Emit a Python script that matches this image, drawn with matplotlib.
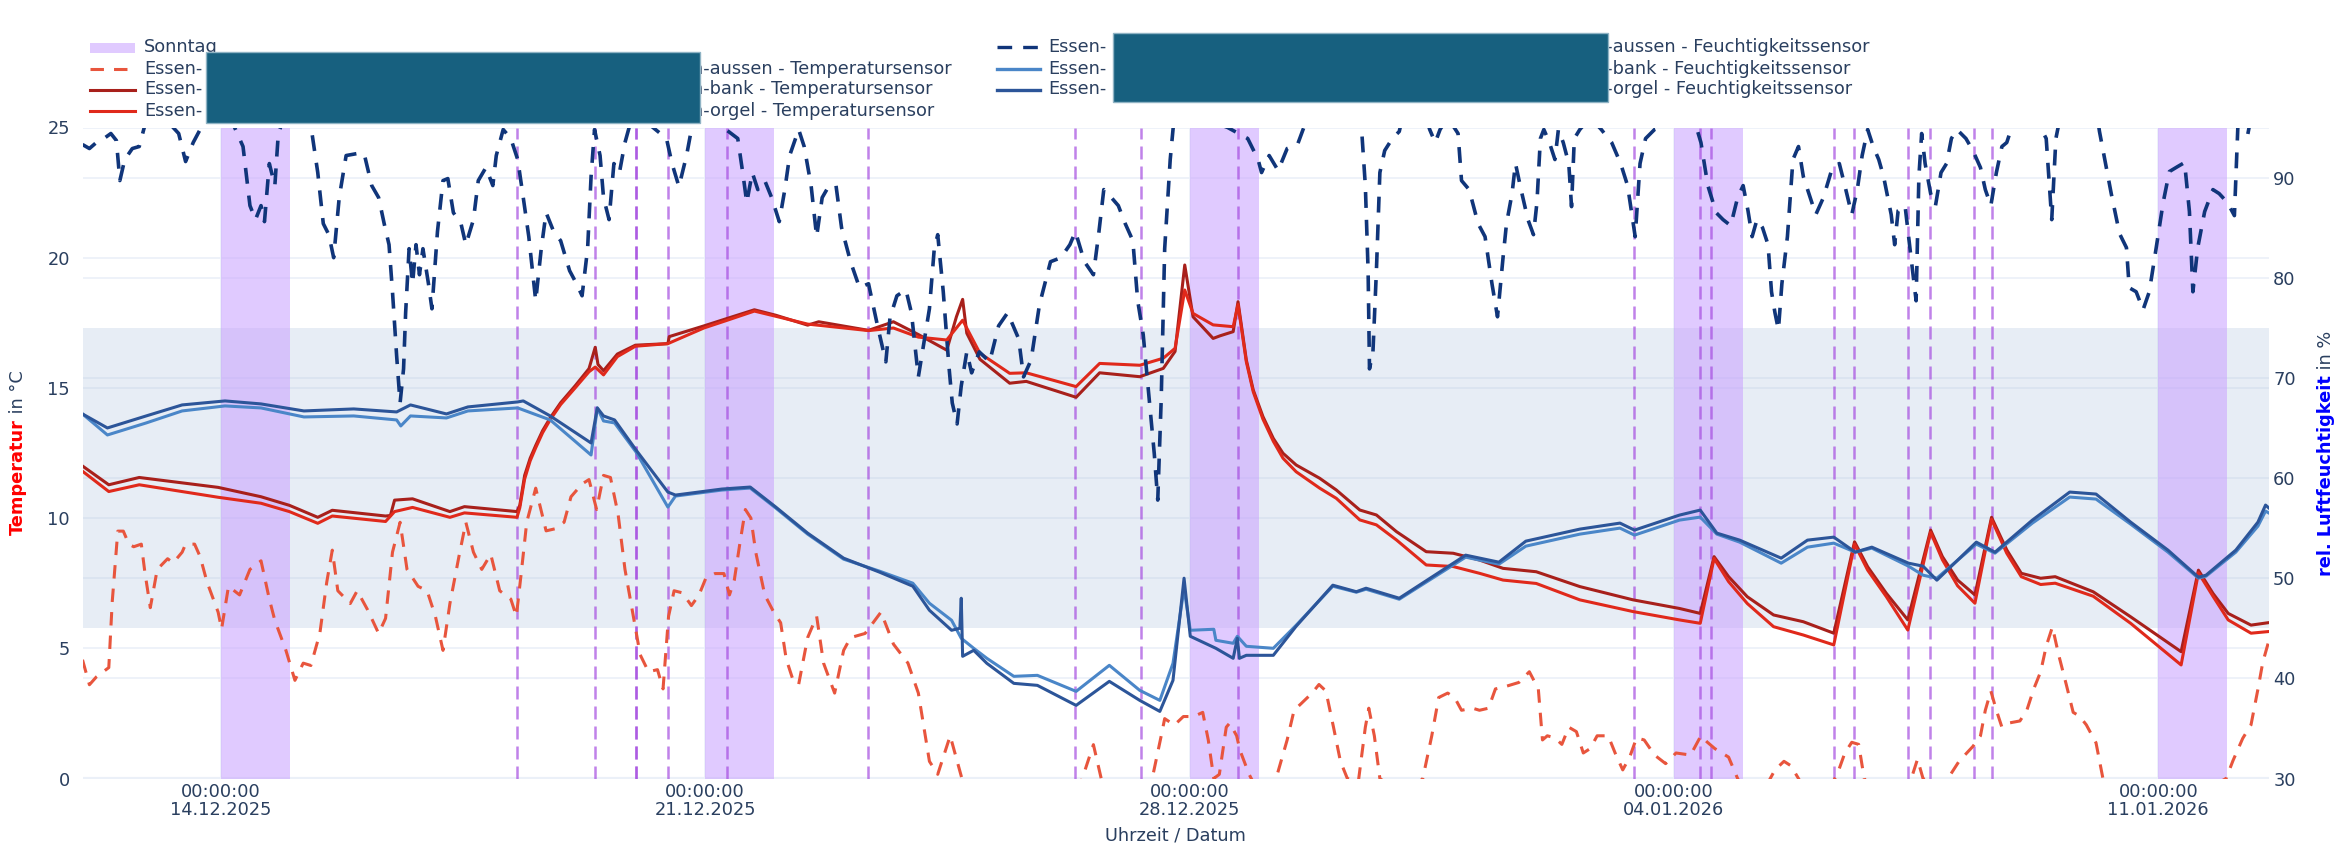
import numpy as np
import pandas as pd
import matplotlib
matplotlib.use("Agg")
import matplotlib.pyplot as plt
import matplotlib.dates as mdates
from matplotlib.lines import Line2D
from matplotlib.patches import Rectangle

FS = 12.8
plt.rcParams["font.family"] = "DejaVu Sans"
plt.rcParams["font.size"] = FS

START = pd.Timestamp("2025-12-12 00:00")
ENDE_TAGE = 31.6

# Messwerte: (Tage seit 12.12.2025 00:00, Wert)
temp_aussen = [
    (0.00, 4.56), (0.10, 3.60), (0.20, 3.90), (0.38, 4.26), (0.43, 6.80), (0.51, 9.50), (0.59, 9.50),
    (0.67, 9.00), (0.74, 8.90), (0.85, 9.00), (0.90, 7.95), (0.98, 6.56), (1.08, 8.03), (1.23, 8.44),
    (1.31, 8.28), (1.44, 8.69), (1.49, 9.00), (1.62, 9.00), (1.70, 8.52), (1.80, 7.54), (1.96, 6.39),
    (2.01, 5.74), (2.11, 7.38), (2.27, 7.05), (2.42, 8.03), (2.58, 8.36), (2.70, 6.89), (2.78, 6.07),
    (2.94, 4.92), (3.07, 3.77), (3.19, 4.43), (3.30, 4.34), (3.43, 5.57), (3.53, 7.54), (3.61, 8.77),
    (3.69, 7.21), (3.87, 6.72), (3.97, 7.21), (4.12, 6.48), (4.28, 5.57), (4.38, 6.15), (4.48, 8.69),
    (4.59, 9.84), (4.69, 8.03), (4.85, 7.38), (4.98, 7.21), (5.10, 6.23), (5.21, 4.92), (5.31, 6.72),
    (5.44, 8.52), (5.54, 9.84), (5.65, 8.69), (5.77, 8.03), (5.90, 8.61), (6.03, 7.21), (6.19, 6.89),
    (6.27, 6.23), (6.34, 7.87), (6.42, 9.84), (6.55, 11.15), (6.70, 9.51), (6.83, 9.59), (6.96, 9.84),
    (7.06, 10.82), (7.22, 11.31), (7.32, 11.48), (7.43, 10.33), (7.53, 11.64), (7.63, 11.56),
    (7.74, 10.16), (7.84, 8.03), (7.95, 6.39), (8.06, 4.75), (8.18, 4.10), (8.31, 4.18), (8.39, 3.44),
    (8.47, 6.23), (8.55, 7.21), (8.67, 7.13), (8.80, 6.64), (8.91, 7.05), (9.01, 7.70), (9.14, 7.87),
    (9.27, 7.87), (9.35, 7.05), (9.42, 7.62), (9.50, 9.02), (9.58, 10.33), (9.66, 10.00), (9.73, 8.69),
    (9.86, 7.05), (9.99, 6.39), (10.09, 5.98), (10.17, 4.59), (10.27, 3.77), (10.35, 3.61),
    (10.48, 5.41), (10.61, 6.23), (10.71, 4.43), (10.87, 3.28), (11.00, 4.92), (11.10, 5.41),
    (11.31, 5.57), (11.54, 6.39), (11.72, 5.16), (11.93, 4.43), (12.08, 3.28), (12.24, 0.66),
    (12.36, 0.16), (12.54, 1.64), (12.73, -0.20), (13.20, -1.50), (13.80, -1.00), (14.30, -1.20),
    (14.61, 1.30), (14.74, -0.20), (15.00, -1.00), (15.46, 0.00), (15.59, 1.64), (15.64, 2.30),
    (15.78, 2.05), (15.91, 2.38), (16.06, 2.38), (16.19, 2.54), (16.27, 1.48), (16.35, 0.00),
    (16.43, 0.16), (16.53, 1.97), (16.58, 2.13), (16.68, 1.64), (16.73, 1.07), (16.86, 0.16),
    (16.99, -0.50), (17.25, 0.00), (17.41, 1.48), (17.51, 2.62), (17.61, 2.87), (17.77, 3.28),
    (17.87, 3.61), (17.97, 3.36), (18.08, 1.97), (18.18, 0.66), (18.28, 0.00), (18.44, -0.10),
    (18.54, 1.97), (18.59, 2.70), (18.67, 1.64), (18.75, 0.00), (19.11, -0.70), (19.37, 0.00),
    (19.50, 1.64), (19.60, 3.11), (19.73, 3.28), (19.83, 3.11), (19.93, 2.62), (20.09, 2.70),
    (20.19, 2.62), (20.32, 2.70), (20.42, 3.44), (20.55, 3.52), (20.66, 3.61), (20.76, 3.69),
    (20.91, 4.10), (21.04, 3.44), (21.10, 1.48), (21.17, 1.64), (21.28, 1.56), (21.38, 1.31),
    (21.48, 1.97), (21.59, 1.80), (21.69, 0.98), (21.79, 1.15), (21.89, 1.64), (22.05, 1.64),
    (22.15, 0.98), (22.26, 0.33), (22.36, 0.82), (22.46, 1.56), (22.57, 1.48), (22.72, 0.90),
    (22.88, 0.57), (23.03, 0.98), (23.24, 0.90), (23.39, 1.64), (23.48, 1.40), (23.59, 1.15),
    (23.79, 0.82), (23.92, 0.00), (24.07, -0.70), (24.33, -0.30), (24.46, 0.33), (24.59, 0.66),
    (24.69, 0.49), (24.80, 0.00), (24.95, -0.70), (25.26, -0.30), (25.36, 0.16), (25.47, 0.98),
    (25.57, 1.39), (25.67, 1.31), (25.75, 0.00), (25.98, -0.80), (26.29, -0.50), (26.45, 0.16),
    (26.52, 0.74), (26.60, 0.00), (26.81, -0.30), (26.96, 0.00), (27.12, 0.66), (27.32, 1.23),
    (27.43, 1.64), (27.50, 2.62), (27.58, 3.36), (27.66, 2.62), (27.74, 1.97), (27.84, 2.13),
    (28.00, 2.21), (28.10, 2.62), (28.20, 3.44), (28.30, 4.10), (28.38, 5.08), (28.47, 5.82),
    (28.56, 4.75), (28.67, 3.61), (28.77, 2.54), (28.86, 2.40), (28.96, 2.06), (29.10, 1.37),
    (29.20, 0.00), (29.60, -1.00), (30.00, -1.00), (30.50, -0.70), (30.98, 0.00), (31.08, 0.69),
    (31.22, 1.54), (31.34, 2.06), (31.44, 3.43), (31.51, 4.46), (31.60, 5.31),
]

temp_bank = [
    (0.00, 12.00), (0.38, 11.28), (0.82, 11.56), (1.96, 11.18), (2.58, 10.82), (2.99, 10.49),
    (3.40, 10.03), (3.61, 10.30), (4.38, 10.08), (4.45, 10.10), (4.51, 10.69), (4.77, 10.74),
    (5.31, 10.25), (5.52, 10.44), (6.28, 10.25), (6.32, 10.49), (6.39, 11.64), (6.47, 12.30),
    (6.55, 12.79), (6.65, 13.36), (6.76, 13.85), (6.91, 14.43), (7.12, 15.08), (7.32, 15.74),
    (7.41, 16.56), (7.45, 15.90), (7.53, 15.66), (7.73, 16.30), (7.99, 16.64), (8.46, 16.70),
    (8.48, 16.97), (8.98, 17.38), (9.32, 17.67), (9.71, 18.00), (10.02, 17.79), (10.48, 17.41),
    (10.64, 17.54), (11.36, 17.21), (11.72, 17.54), (12.08, 17.05), (12.49, 16.45), (12.63, 17.73),
    (12.72, 18.40), (12.78, 17.10), (12.97, 16.10), (13.40, 15.18), (13.64, 15.25), (14.36, 14.64),
    (14.70, 15.58), (15.28, 15.43), (15.62, 15.75), (15.79, 16.40), (15.93, 19.72), (16.05, 17.73),
    (16.34, 16.90), (16.44, 17.00), (16.63, 17.16), (16.70, 18.31), (16.82, 16.07), (16.92, 14.92),
    (17.06, 13.90), (17.21, 13.06), (17.35, 12.49), (17.54, 12.04), (17.88, 11.53), (18.12, 11.08),
    (18.46, 10.31), (18.70, 10.12), (18.99, 9.48), (19.42, 8.71), (19.81, 8.65), (20.19, 8.39),
    (20.53, 8.07), (21.01, 7.94), (21.64, 7.37), (22.41, 6.86), (23.08, 6.53), (23.38, 6.34),
    (23.58, 8.52), (23.79, 7.75), (24.06, 6.98), (24.44, 6.28), (24.87, 6.02), (25.31, 5.58),
    (25.61, 9.09), (25.80, 8.13), (26.07, 7.11), (26.38, 6.09), (26.71, 9.54), (26.88, 8.52),
    (27.10, 7.62), (27.35, 7.05), (27.59, 10.03), (27.81, 8.78), (28.02, 7.88), (28.30, 7.69),
    (28.51, 7.75), (29.06, 7.17), (29.60, 6.21), (30.33, 4.87), (30.58, 8.00), (30.79, 7.11),
    (31.01, 6.34), (31.34, 5.89), (31.58, 5.98),
]

temp_orgel = [
    (0.00, 11.80), (0.38, 11.02), (0.82, 11.28), (1.96, 10.80), (2.58, 10.57), (2.99, 10.25),
    (3.40, 9.80), (3.61, 10.08), (4.38, 9.87), (4.51, 10.25), (4.77, 10.41), (5.31, 10.03),
    (5.52, 10.20), (6.28, 10.03), (6.32, 10.40), (6.39, 11.50), (6.47, 12.20), (6.55, 12.70),
    (6.65, 13.28), (6.76, 13.78), (6.91, 14.36), (7.12, 15.00), (7.32, 15.62), (7.41, 15.80),
    (7.53, 15.50), (7.73, 16.20), (7.99, 16.60), (8.46, 16.70), (8.98, 17.30), (9.32, 17.60),
    (9.71, 17.95), (10.02, 17.75), (10.48, 17.45), (11.36, 17.20), (11.72, 17.30), (12.08, 16.95),
    (12.49, 16.84), (12.72, 17.60), (12.97, 16.33), (13.40, 15.56), (13.64, 15.58), (14.36, 15.05),
    (14.70, 15.94), (15.28, 15.87), (15.62, 16.14), (15.79, 16.52), (15.93, 18.76), (16.05, 17.86),
    (16.34, 17.42), (16.63, 17.35), (16.70, 18.20), (16.82, 16.00), (16.92, 14.85), (17.06, 13.80),
    (17.21, 12.95), (17.35, 12.30), (17.54, 11.78), (17.88, 11.15), (18.12, 10.76), (18.46, 9.93),
    (18.70, 9.74), (18.99, 9.16), (19.42, 8.20), (19.81, 8.14), (20.19, 7.88), (20.53, 7.62),
    (21.01, 7.49), (21.64, 6.86), (22.41, 6.41), (23.08, 6.09), (23.38, 5.96), (23.58, 8.45),
    (23.79, 7.56), (24.06, 6.72), (24.44, 5.83), (24.87, 5.51), (25.31, 5.13), (25.61, 9.00),
    (25.80, 8.00), (26.07, 6.98), (26.38, 5.70), (26.71, 9.45), (26.88, 8.40), (27.10, 7.40),
    (27.35, 6.73), (27.59, 9.95), (27.81, 8.65), (28.02, 7.75), (28.30, 7.45), (28.51, 7.50),
    (29.06, 7.00), (29.60, 5.96), (30.33, 4.36), (30.58, 7.90), (30.79, 7.00), (31.01, 6.09),
    (31.34, 5.58), (31.58, 5.64),
]

feuchte_aussen = [
    (0.00, 93.3), (0.10, 92.9), (0.20, 93.5), (0.31, 93.9), (0.41, 94.4), (0.49, 93.7), (0.54, 89.7),
    (0.61, 91.8), (0.72, 92.9), (0.82, 93.1), (0.90, 95.2), (1.03, 97.0), (1.23, 95.6), (1.39, 94.4),
    (1.49, 91.6), (1.60, 93.5), (1.70, 94.8), (1.80, 96.5), (2.16, 95.6), (2.32, 93.1), (2.42, 87.2),
    (2.50, 85.8), (2.58, 87.2), (2.63, 85.6), (2.70, 91.4), (2.78, 89.2), (2.83, 94.4), (2.94, 96.5),
    (3.30, 95.2), (3.40, 90.5), (3.48, 85.4), (3.56, 84.3), (3.63, 82.0), (3.71, 88.0), (3.81, 92.2),
    (3.97, 92.4), (4.07, 92.4), (4.18, 89.2), (4.28, 88.0), (4.36, 85.4), (4.43, 83.3), (4.48, 78.6),
    (4.54, 72.2), (4.59, 67.5), (4.64, 70.9), (4.67, 76.5), (4.72, 82.9), (4.77, 79.4), (4.82, 83.3),
    (4.87, 80.3), (4.92, 82.9), (5.00, 79.4), (5.05, 76.9), (5.13, 84.6), (5.21, 89.7), (5.28, 89.9),
    (5.36, 86.5), (5.47, 85.4), (5.54, 83.3), (5.65, 85.8), (5.72, 89.7), (5.83, 91.0), (5.93, 89.2),
    (5.98, 92.2), (6.08, 94.8), (6.19, 93.9), (6.29, 91.8), (6.37, 88.0), (6.45, 84.1), (6.55, 77.7),
    (6.63, 82.9), (6.70, 86.5), (6.81, 84.6), (6.91, 83.7), (7.04, 80.7), (7.14, 79.4), (7.22, 78.2),
    (7.30, 82.9), (7.35, 90.1), (7.40, 94.8), (7.48, 92.2), (7.53, 88.0), (7.61, 85.8), (7.68, 91.4),
    (7.76, 90.5), (7.84, 93.5), (7.98, 97.0), (8.21, 95.2), (8.44, 93.9), (8.52, 91.4), (8.62, 89.1),
    (8.73, 92.2), (8.80, 94.8), (8.88, 97.0), (9.47, 93.9), (9.55, 90.1), (9.60, 87.5), (9.68, 90.5),
    (9.76, 88.8), (9.86, 89.7), (9.96, 88.0), (10.07, 85.6), (10.15, 88.8), (10.22, 92.2),
    (10.35, 94.8), (10.43, 93.1), (10.53, 89.2), (10.61, 84.1), (10.69, 88.0), (10.79, 89.2),
    (10.89, 89.2), (10.97, 85.0), (11.10, 81.6), (11.23, 79.0), (11.36, 79.4), (11.49, 75.2),
    (11.61, 71.6), (11.67, 76.0), (11.77, 78.2), (11.90, 78.8), (11.98, 76.5), (12.08, 70.1),
    (12.16, 73.5), (12.24, 76.9), (12.31, 82.9), (12.36, 84.3), (12.44, 78.6), (12.52, 71.3),
    (12.57, 67.5), (12.64, 65.4), (12.70, 69.2), (12.78, 72.6), (12.85, 70.5), (12.96, 72.6),
    (13.11, 71.6), (13.24, 75.2), (13.37, 76.5), (13.53, 73.9), (13.60, 70.1), (13.71, 71.8),
    (13.83, 77.3), (13.99, 81.6), (14.14, 82.0), (14.27, 83.3), (14.35, 84.6), (14.48, 81.6),
    (14.61, 80.3), (14.69, 84.6), (14.76, 88.8), (14.87, 88.0), (14.97, 87.2), (15.07, 85.4),
    (15.18, 83.7), (15.25, 77.7), (15.33, 74.3), (15.41, 68.4), (15.49, 62.4), (15.54, 57.8),
    (15.59, 67.9), (15.64, 82.9), (15.72, 91.8), (15.79, 97.0), (16.55, 95.0), (16.84, 93.9),
    (16.99, 91.8), (17.04, 90.5), (17.15, 92.2), (17.28, 90.7), (17.41, 92.9), (17.56, 93.3),
    (17.64, 94.8), (17.77, 97.0), (18.39, 97.0), (18.49, 94.4), (18.54, 89.2), (18.58, 80.7),
    (18.60, 70.9), (18.65, 72.6), (18.70, 80.7), (18.75, 90.5), (18.82, 92.7), (18.93, 93.9),
    (19.03, 94.6), (19.11, 97.0), (19.42, 96.0), (19.47, 94.8), (19.55, 93.5), (19.62, 94.8),
    (19.73, 96.0), (19.88, 94.4), (19.93, 89.7), (20.04, 88.8), (20.17, 85.4), (20.27, 84.1),
    (20.37, 79.4), (20.45, 76.1), (20.53, 82.0), (20.58, 85.4), (20.66, 88.4), (20.71, 91.4),
    (20.79, 88.8), (20.89, 85.8), (20.97, 84.3), (21.02, 87.5), (21.07, 93.9), (21.12, 94.8),
    (21.20, 93.5), (21.28, 91.8), (21.33, 94.8), (21.40, 93.5), (21.48, 91.4), (21.52, 87.1),
    (21.56, 93.9), (21.64, 94.8), (21.79, 96.0), (21.95, 94.8), (22.10, 93.5), (22.23, 91.4),
    (22.33, 89.2), (22.44, 84.1), (22.51, 91.4), (22.59, 93.9), (22.72, 94.8), (22.88, 95.2),
    (23.24, 97.0), (23.39, 93.5), (23.49, 89.2), (23.61, 86.5), (23.71, 85.8), (23.82, 85.2),
    (23.92, 88.0), (24.00, 89.2), (24.07, 86.7), (24.13, 84.1), (24.20, 85.8), (24.28, 85.0),
    (24.36, 83.3), (24.41, 78.6), (24.46, 76.5), (24.51, 74.8), (24.56, 79.4), (24.64, 84.1),
    (24.72, 91.8), (24.80, 93.1), (24.87, 90.1), (24.95, 88.4), (25.05, 86.3), (25.16, 88.0),
    (25.29, 91.0), (25.39, 91.4), (25.47, 89.2), (25.57, 86.3), (25.65, 88.8), (25.72, 92.2),
    (25.80, 94.8), (25.88, 93.1), (25.96, 91.8), (26.03, 90.1), (26.14, 86.3), (26.19, 83.3),
    (26.24, 86.7), (26.34, 87.2), (26.42, 82.4), (26.50, 77.7), (26.54, 90.1), (26.58, 94.4),
    (26.63, 91.4), (26.71, 88.4), (26.78, 87.2), (26.86, 90.5), (26.94, 91.4), (27.01, 93.9),
    (27.09, 94.8), (27.22, 93.9), (27.32, 92.7), (27.43, 91.0), (27.50, 88.8), (27.58, 87.2),
    (27.66, 90.5), (27.74, 93.1), (27.81, 93.5), (27.89, 95.2), (28.15, 97.0), (28.38, 93.9),
    (28.46, 85.8), (28.52, 93.9), (28.61, 97.0), (29.10, 97.0), (29.15, 94.6), (29.32, 88.4),
    (29.44, 84.4), (29.54, 83.0), (29.58, 79.0), (29.68, 78.6), (29.78, 76.8), (29.87, 78.6),
    (29.97, 83.0), (30.07, 87.5), (30.16, 90.6), (30.28, 91.1), (30.38, 91.5), (30.45, 86.6),
    (30.50, 78.6), (30.57, 83.0), (30.67, 86.6), (30.79, 88.8), (30.88, 88.4), (31.00, 87.5),
    (31.10, 86.2), (31.15, 95.1), (31.22, 98.0), (31.29, 94.2), (31.34, 96.0), (31.60, 98.0),
]

feuchte_bank = [
    (0.00, 66.4), (0.36, 64.3), (0.92, 65.5), (1.44, 66.7), (2.06, 67.2), (2.58, 67.0), (3.20, 66.1),
    (3.92, 66.2), (4.54, 65.8), (4.60, 65.2), (4.74, 66.2), (5.26, 66.0), (5.57, 66.7), (6.29, 67.0),
    (6.76, 65.8), (7.35, 62.3), (7.44, 67.0), (7.53, 65.7), (7.69, 65.5), (8.00, 62.6), (8.46, 57.1),
    (8.57, 58.2), (9.24, 58.8), (9.65, 59.0), (10.02, 57.0), (10.48, 54.4), (11.00, 51.9),
    (11.52, 50.7), (12.00, 49.5), (12.24, 47.5), (12.56, 45.8), (12.70, 44.0), (12.88, 43.0),
    (13.07, 42.0), (13.46, 40.2), (13.80, 40.3), (14.36, 38.7), (14.84, 41.3), (15.28, 38.8),
    (15.57, 37.8), (15.76, 41.5), (15.92, 49.0), (16.01, 44.8), (16.35, 44.9), (16.38, 43.8),
    (16.63, 43.5), (16.69, 44.2), (16.82, 43.2), (17.21, 43.0), (17.54, 45.3), (18.07, 49.2),
    (18.41, 48.6), (18.55, 48.9), (19.03, 47.9), (19.51, 50.0), (19.99, 52.1), (20.47, 51.4),
    (20.86, 53.2), (21.64, 54.4), (22.22, 55.0), (22.43, 54.3), (23.08, 55.8), (23.38, 56.1),
    (23.62, 54.4), (23.95, 53.6), (24.55, 51.5), (24.93, 53.1), (25.31, 53.5), (25.62, 52.6),
    (25.86, 53.0), (26.39, 51.2), (26.60, 50.3), (26.80, 50.0), (27.37, 53.4), (27.64, 52.5),
    (28.18, 55.5), (28.72, 58.1), (29.10, 57.9), (29.60, 55.4), (30.14, 52.6), (30.58, 50.0),
    (30.69, 50.2), (31.12, 52.6), (31.44, 55.2), (31.55, 56.7), (31.60, 56.5),
]

feuchte_orgel = [
    (0.00, 66.4), (0.36, 65.0), (0.92, 66.2), (1.44, 67.3), (2.06, 67.7), (2.58, 67.4), (3.20, 66.7),
    (3.92, 66.9), (4.54, 66.6), (4.74, 67.3), (5.26, 66.4), (5.57, 67.1), (6.29, 67.6), (6.37, 67.7),
    (6.76, 66.2), (7.35, 63.5), (7.44, 67.0), (7.53, 66.2), (7.69, 65.8), (8.00, 62.8), (8.46, 58.6),
    (8.57, 58.3), (9.24, 58.9), (9.65, 59.1), (10.02, 57.1), (10.48, 54.5), (11.00, 52.0),
    (11.52, 50.6), (12.00, 49.2), (12.24, 46.8), (12.56, 44.8), (12.68, 45.0), (12.70, 48.0),
    (12.72, 42.2), (12.88, 42.8), (13.07, 41.5), (13.46, 39.5), (13.80, 39.3), (14.36, 37.3),
    (14.84, 39.7), (15.28, 37.8), (15.57, 36.7), (15.76, 39.8), (15.92, 50.0), (16.01, 44.2),
    (16.38, 43.0), (16.63, 42.0), (16.69, 44.0), (16.72, 42.0), (16.82, 42.3), (17.21, 42.3),
    (17.54, 45.2), (18.07, 49.3), (18.41, 48.65), (18.55, 49.0), (19.03, 48.0), (19.51, 50.15),
    (19.99, 52.3), (20.47, 51.6), (20.86, 53.7), (21.64, 54.9), (22.22, 55.5), (22.43, 54.8),
    (23.08, 56.3), (23.38, 56.8), (23.62, 54.5), (23.95, 53.8), (24.55, 52.0), (24.93, 53.8),
    (25.31, 54.1), (25.62, 52.6), (25.86, 53.1), (26.39, 51.5), (26.60, 51.2), (26.80, 49.8),
    (27.37, 53.6), (27.64, 52.6), (28.18, 55.8), (28.72, 58.6), (29.10, 58.4), (29.60, 55.6),
    (30.14, 52.8), (30.58, 50.1), (30.69, 50.3), (31.12, 52.8), (31.44, 55.6), (31.55, 57.3),
    (31.60, 57.0),
]

sonntage = ["2025-12-14", "2025-12-21", "2025-12-28", "2026-01-04", "2026-01-11"]
termine = [
    "2025-12-18 06:40", "2025-12-19 09:50", "2025-12-19 23:50", "2025-12-20 00:00",
    "2025-12-20 11:00", "2025-12-21 07:40", "2025-12-23 08:30", "2025-12-26 08:25",
    "2025-12-27 07:15", "2025-12-28 16:40", "2026-01-03 10:00", "2026-01-04 09:00",
    "2026-01-04 13:00", "2026-01-06 07:30", "2026-01-06 14:25", "2026-01-07 09:15",
    "2026-01-07 16:45", "2026-01-08 08:15", "2026-01-08 14:20",
]
temp_bereich = (0, 25)
feuchte_bereich = (30, 95)
feuchte_band = (45, 75)

textfarbe = "#2a3f5f"
gitter = "#ebf0f8"
farben = {
    "t_aussen": "#e8553d", "t_bank": "#a8201b", "t_orgel": "#e0291b",
    "f_aussen": "#10357a", "f_bank": "#4a86c8", "f_orgel": "#2c5599",
}


def xy(daten):
    t, v = zip(*daten)
    x = (START + pd.to_timedelta(np.array(t), unit="D")).to_numpy()
    return x, np.array(v)


def f2t(h):
    # Feuchte-Wert in Koordinate der linken Achse
    a, b = feuchte_bereich
    return (h - a) / (b - a) * (temp_bereich[1] - temp_bereich[0]) + temp_bereich[0]


W, H = 2352, 856
fig = plt.figure(figsize=(W / 100, H / 100), dpi=100)
L, R, T, B = 82.5, 2269, 127.5, 778.5
ax = fig.add_axes([L / W, 1 - B / H, (R - L) / W, (B - T) / H])
ax2 = ax.twinx()

ax.set_xlim(START.to_pydatetime(), (START + pd.Timedelta(days=ENDE_TAGE)).to_pydatetime())
ax.set_ylim(*temp_bereich)
ax2.set_ylim(*feuchte_bereich)

# Gitter
for y in range(0, 26, 5):
    ax.axhline(y, color=gitter, lw=1.2, zorder=0)
for h in range(40, 91, 10):
    ax.axhline(f2t(h), color=gitter, lw=1.2, zorder=0)
ax.axhline(0, color=gitter, lw=3, zorder=0.2)
for s in sonntage:
    ax.axvline(pd.Timestamp(s), color=gitter, lw=1.2, zorder=0)

# Bänder
ax.axhspan(f2t(feuchte_band[0]), f2t(feuchte_band[1]), color="#b0c4de", alpha=0.3, lw=0, zorder=0.5)
for s in sonntage:
    t0 = pd.Timestamp(s)
    ax.axvspan(t0, t0 + pd.Timedelta(days=1), color="#c8a0ff", alpha=0.55, lw=0, zorder=1)
for t in termine:
    ax.axvline(pd.Timestamp(t), color="#a64de0", alpha=0.7, lw=1.8, ls=(0, (5.2, 2.8)), zorder=2)

# Temperaturen
x, y = xy(temp_aussen)
ax.plot(x, y, color=farben["t_aussen"], lw=2.2, ls=(0, (4.4, 3.3)), zorder=3)
x, y = xy(temp_bank)
ax.plot(x, y, color=farben["t_bank"], lw=2.2, zorder=3)
x, y = xy(temp_orgel)
ax.plot(x, y, color=farben["t_orgel"], lw=2.2, zorder=3)

# Feuchte
x, y = xy(feuchte_aussen)
ax2.plot(x, y, color=farben["f_aussen"], lw=2.6, ls=(0, (4.4, 3.3)))
x, y = xy(feuchte_bank)
ax2.plot(x, y, color=farben["f_bank"], lw=2.2)
x, y = xy(feuchte_orgel)
ax2.plot(x, y, color=farben["f_orgel"], lw=2.2)

for a in (ax, ax2):
    for sp in a.spines.values():
        sp.set_visible(False)
    a.tick_params(length=0, colors=textfarbe, labelsize=FS)

ax.set_yticks(range(0, 26, 5))
ax2.set_yticks(range(30, 91, 10))
ax.tick_params(axis="y", pad=9)
ax2.tick_params(axis="y", pad=3)
ax.set_xticks([pd.Timestamp(s) for s in sonntage])
ax.xaxis.set_major_formatter(mdates.DateFormatter("%H:%M:%S\n%d.%m.%Y"))
ax.tick_params(axis="x", pad=3)
for lab in ax.get_xticklabels():
    lab.set_linespacing(1.0)

fig.text((L + R) / 2 / W, 1 - 836 / H, "Uhrzeit / Datum", ha="center", va="center",
         color=textfarbe, fontsize=FS)


# Achsentitel, zweifarbig und gedreht
def achsentitel(xpx, teile):
    fig.canvas.draw()
    r = fig.canvas.get_renderer()
    objs = []
    for text, farbe, gewicht in teile:
        t = fig.text(xpx / W, 0, text, rotation=90, rotation_mode="anchor", ha="left",
                     va="baseline", color=farbe, fontweight=gewicht, fontsize=FS)
        objs.append(t)
    laengen = [o.get_window_extent(r).height for o in objs]
    y = (H - (T + B) / 2) - sum(laengen) / 2
    for o, l in zip(objs, laengen):
        o.set_position((xpx / W, y / H))
        y += l


achsentitel(23, [("Temperatur", "red", "bold"), (" in °C", textfarbe, "normal")])
achsentitel(2331, [("rel. Luftfeuchtigkeit", "blue", "bold"), (" in %", textfarbe, "normal")])


# Legende von Hand
def fx(v):
    return v / W


def fy(v):
    return 1 - v / H


fig.add_artist(Rectangle((fx(90), fy(53)), fx(45), 10 / H, transform=fig.transFigure,
                         color="#c8a0ff", alpha=0.55, lw=0))
fig.text(fx(144), fy(47), "Sonntag", color=textfarbe, va="center", fontsize=FS)

eintraege1 = [
    (68.5, farben["t_aussen"], (0, (4.4, 3.3)), "n-aussen - Temperatursensor"),
    (89.5, farben["t_bank"], "-", "n-bank - Temperatursensor"),
    (110.5, farben["t_orgel"], "-", "n-orgel - Temperatursensor"),
]
for ypx, c, ls, rest in eintraege1:
    fig.add_artist(Line2D([fx(90), fx(135)], [fy(ypx), fy(ypx)], transform=fig.transFigure,
                          color=c, lw=2.2, ls=ls))
    fig.text(fx(144), fy(ypx), "Essen-", color=textfarbe, va="center", fontsize=FS)
    fig.text(fx(692), fy(ypx), rest, color=textfarbe, va="center", fontsize=FS)

eintraege2 = [
    (47, farben["f_aussen"], (0, (4.4, 3.3)), "n-aussen - Feuchtigkeitssensor"),
    (68.5, farben["f_bank"], "-", "n-bank - Feuchtigkeitssensor"),
    (89.5, farben["f_orgel"], "-", "n-orgel - Feuchtigkeitssensor"),
]
for ypx, c, ls, rest in eintraege2:
    fig.add_artist(Line2D([fx(997), fx(1040)], [fy(ypx), fy(ypx)], transform=fig.transFigure,
                          color=c, lw=2.4, ls=ls))
    fig.text(fx(1048), fy(ypx), "Essen-", color=textfarbe, va="center", fontsize=FS)
    fig.text(fx(1595), fy(ypx), rest, color=textfarbe, va="center", fontsize=FS)

# geschwärzte Bereiche
fig.add_artist(Rectangle((fx(206), fy(123)), (700 - 206) / W, (123 - 52) / H,
                         transform=fig.transFigure, facecolor="#17607f", edgecolor="#8fb3c4",
                         lw=1, zorder=10))
fig.add_artist(Rectangle((fx(1113), fy(102)), (1608 - 1113) / W, (102 - 33) / H,
                         transform=fig.transFigure, facecolor="#17607f", edgecolor="#8fb3c4",
                         lw=1, zorder=10))

fig.savefig("out.png", dpi=100, facecolor="white")
